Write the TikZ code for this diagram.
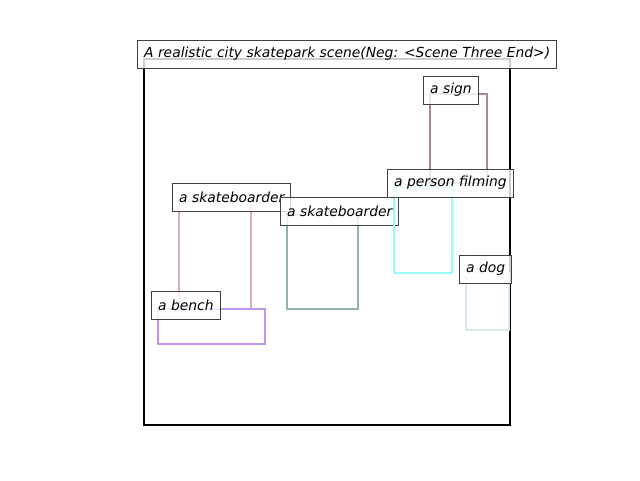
\documentclass[tikz,border=0pt]{standalone}
\usepackage{fontspec}
\setmainfont{DejaVu Sans}
\definecolor{csign}{RGB}{178,134,144}
\definecolor{cperson}{RGB}{150,252,246}
\definecolor{cskA}{RGB}{220,170,200}
\definecolor{cskB}{RGB}{150,180,164}
\definecolor{cbench}{RGB}{188,150,240}
\definecolor{cdog}{RGB}{218,236,232}
\definecolor{cedge}{RGB}{64,64,64}
\tikzset{
  obj/.style={line width=1.8pt},
  lbl/.style={draw=cedge, line width=0.75pt, fill=white, fill opacity=0.8, text opacity=1,
    anchor=west, inner xsep=5pt, inner ysep=0pt, minimum height=21pt,
    font=\fontsize{10.4}{12}\selectfont\itshape},
}
\begin{document}
\begin{tikzpicture}[x=0.75pt,y=-0.75pt]
\useasboundingbox (0,0) rectangle (640,480);
% frame
\draw[line width=1.9pt, black] (144,59) rectangle (510,425);
% objects
\draw[obj, csign] (430,94) rectangle (487,183);
\node[lbl] (sign) at (423,90) {a sign};
\draw[obj, cskA] (179,201) rectangle (251,309);
\node[lbl] (skA) at (172,197) {a skateboarder};
\draw[obj, cskB] (287,215) rectangle (358,309);
\node[lbl] (skB) at (280,211) {a skateboarder};
\draw[obj, cperson] (394,187) rectangle (452,273);
\node[lbl] (person) at (387,183) {a person filming};
\draw[obj, cbench] (158,309) rectangle (265,344);
\node[lbl] (bench) at (151,305) {a bench};
\draw[obj, cdog] (466,273) rectangle (509,330);
\node[lbl] (dog) at (459,269) {a dog};
% title
\node[lbl] (title) at (137,54) {A realistic city skatepark scene(Neg: <Scene Three End>)};
\end{tikzpicture}
\end{document}
